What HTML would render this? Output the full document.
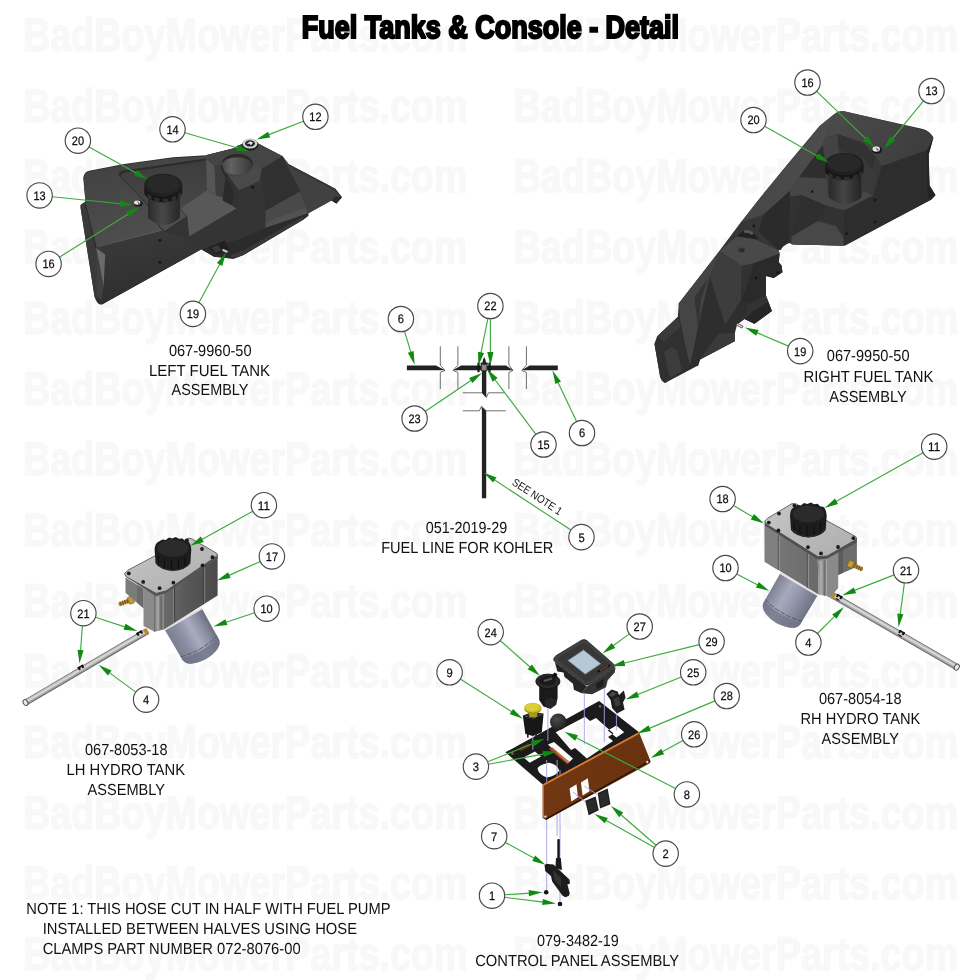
<!DOCTYPE html>
<html><head><meta charset="utf-8"><title>Fuel Tanks &amp; Console - Detail</title>
<style>
html,body{margin:0;padding:0;background:#fff;}
body{width:980px;height:980px;overflow:hidden;font-family:"Liberation Sans",sans-serif;}
svg{display:block;will-change:transform;}
text{font-family:"Liberation Sans",sans-serif;text-rendering:geometricPrecision;}
.wm{font-weight:bold;font-size:47px;fill:#f8f8f8;stroke:#f8f8f8;stroke-width:1.6px;stroke-linejoin:miter;stroke-miterlimit:1.8;}
.ttl{font-weight:bold;font-size:32px;fill:#000;stroke:#000;stroke-width:2.2px;stroke-linejoin:miter;stroke-miterlimit:1.8;}
.lbl{font-size:16px;fill:#111;}
.num{font-size:12.3px;fill:#111;text-anchor:middle;stroke:#111;stroke-width:0.25px;}
.co{fill:#fff;stroke:#484848;stroke-width:1.15;}
.ar{stroke:#3dab3d;stroke-width:1.15;fill:none;}
.ah{fill:#128a12;stroke:none;}
</style></head><body>
<svg width="980" height="980" viewBox="0 0 980 980">
<rect width="980" height="980" fill="#fff"/>

<g class="wm">
<text x="23.0" y="51.0" textLength="444.6" lengthAdjust="spacingAndGlyphs">BadBoyMowerParts.com</text>
<text x="513.6" y="51.0" textLength="444.6" lengthAdjust="spacingAndGlyphs">BadBoyMowerParts.com</text>
<text x="23.0" y="121.7" textLength="444.6" lengthAdjust="spacingAndGlyphs">BadBoyMowerParts.com</text>
<text x="513.6" y="121.7" textLength="444.6" lengthAdjust="spacingAndGlyphs">BadBoyMowerParts.com</text>
<text x="23.0" y="192.4" textLength="444.6" lengthAdjust="spacingAndGlyphs">BadBoyMowerParts.com</text>
<text x="513.6" y="192.4" textLength="444.6" lengthAdjust="spacingAndGlyphs">BadBoyMowerParts.com</text>
<text x="23.0" y="263.1" textLength="444.6" lengthAdjust="spacingAndGlyphs">BadBoyMowerParts.com</text>
<text x="513.6" y="263.1" textLength="444.6" lengthAdjust="spacingAndGlyphs">BadBoyMowerParts.com</text>
<text x="23.0" y="333.8" textLength="444.6" lengthAdjust="spacingAndGlyphs">BadBoyMowerParts.com</text>
<text x="513.6" y="333.8" textLength="444.6" lengthAdjust="spacingAndGlyphs">BadBoyMowerParts.com</text>
<text x="23.0" y="404.5" textLength="444.6" lengthAdjust="spacingAndGlyphs">BadBoyMowerParts.com</text>
<text x="513.6" y="404.5" textLength="444.6" lengthAdjust="spacingAndGlyphs">BadBoyMowerParts.com</text>
<text x="23.0" y="475.2" textLength="444.6" lengthAdjust="spacingAndGlyphs">BadBoyMowerParts.com</text>
<text x="513.6" y="475.2" textLength="444.6" lengthAdjust="spacingAndGlyphs">BadBoyMowerParts.com</text>
<text x="23.0" y="545.9" textLength="444.6" lengthAdjust="spacingAndGlyphs">BadBoyMowerParts.com</text>
<text x="513.6" y="545.9" textLength="444.6" lengthAdjust="spacingAndGlyphs">BadBoyMowerParts.com</text>
<text x="23.0" y="616.6" textLength="444.6" lengthAdjust="spacingAndGlyphs">BadBoyMowerParts.com</text>
<text x="513.6" y="616.6" textLength="444.6" lengthAdjust="spacingAndGlyphs">BadBoyMowerParts.com</text>
<text x="23.0" y="687.3" textLength="444.6" lengthAdjust="spacingAndGlyphs">BadBoyMowerParts.com</text>
<text x="513.6" y="687.3" textLength="444.6" lengthAdjust="spacingAndGlyphs">BadBoyMowerParts.com</text>
<text x="23.0" y="758.0" textLength="444.6" lengthAdjust="spacingAndGlyphs">BadBoyMowerParts.com</text>
<text x="513.6" y="758.0" textLength="444.6" lengthAdjust="spacingAndGlyphs">BadBoyMowerParts.com</text>
<text x="23.0" y="828.7" textLength="444.6" lengthAdjust="spacingAndGlyphs">BadBoyMowerParts.com</text>
<text x="513.6" y="828.7" textLength="444.6" lengthAdjust="spacingAndGlyphs">BadBoyMowerParts.com</text>
<text x="23.0" y="899.4" textLength="444.6" lengthAdjust="spacingAndGlyphs">BadBoyMowerParts.com</text>
<text x="513.6" y="899.4" textLength="444.6" lengthAdjust="spacingAndGlyphs">BadBoyMowerParts.com</text>
<text x="23.0" y="970.1" textLength="444.6" lengthAdjust="spacingAndGlyphs">BadBoyMowerParts.com</text>
<text x="513.6" y="970.1" textLength="444.6" lengthAdjust="spacingAndGlyphs">BadBoyMowerParts.com</text>
</g>
<text class="ttl" x="301.8" y="37.8" textLength="377.3" lengthAdjust="spacingAndGlyphs">Fuel Tanks &amp; Console - Detail</text>
<!-- 10_fuelline.svg -->
<g id="fuelline">
<!-- break lines -->
<g fill="none" stroke="#6e6e6e" stroke-width="1">
<path d="M440.3 346.3V365.2L445 370.4L440.3 372.4V389"/>
<path d="M457.9 346.3V365.2L453 370.4L457.9 372.4V389"/>
<path d="M508.9 346.3V365.2L513 370.4L508.9 372.4V389"/>
<path d="M526.4 346.3V365.2L521.8 370.4L526.4 372.4V389"/>
<path d="M462.8 392.8H481.8L486.4 397.6L488.4 392.8H504.5"/>
<path d="M462.8 410.8H479.4L481.4 406.3L486.2 410.8H505.8"/>
</g>
<!-- hose segments -->
<g fill="#222">
<path d="M406.9 365.5H436L445 370.3H406.9Z"/>
<path d="M453 370.3L461 365.5H506L513 370.3Z"/>
<path d="M521.8 370.3L529.5 365.5H557.8V370.3Z"/>
<path d="M481.9 370H486.3V397.5L481.9 392.5Z"/>
<path d="M481.6 406.4L486.2 411V498.3H481.9V411Z"/>
</g>
<!-- tee fitting -->
<path d="M482.3 363.8L483 359.8L484.2 357L485.4 359.8L486.3 363.8Z" fill="#1c1c1c"/>
<rect x="480.6" y="362.6" width="7.2" height="2" fill="#222"/>
<rect x="477.4" y="362.6" width="2.2" height="9.6" fill="#151515"/>
<rect x="488.4" y="362.6" width="2.2" height="9.6" fill="#151515"/>
<rect x="481.3" y="364.6" width="5.6" height="6.2" fill="#8c8c8c" stroke="#222" stroke-width="0.7"/>
</g>

<!-- 20_lefttank.svg -->
<g id="lefttank">
<defs>
<linearGradient id="ltTop" x1="0" y1="0" x2="0.6" y2="1"><stop offset="0" stop-color="#404040"/><stop offset="0.6" stop-color="#4a4a4a"/><stop offset="1" stop-color="#505050"/></linearGradient>
<linearGradient id="ltFront" x1="0" y1="0" x2="0.3" y2="1"><stop offset="0" stop-color="#3b3b3b"/><stop offset="1" stop-color="#2e2e2e"/></linearGradient>
<linearGradient id="ltBack" x1="0" y1="0" x2="0" y2="1"><stop offset="0" stop-color="#3c3c3c"/><stop offset="1" stop-color="#4b4b4b"/></linearGradient>
<linearGradient id="ltCup" x1="0" y1="0" x2="1" y2="0"><stop offset="0" stop-color="#444"/><stop offset="0.3" stop-color="#626262"/><stop offset="0.7" stop-color="#4a4a4a"/><stop offset="1" stop-color="#363636"/></linearGradient>
<linearGradient id="ltNeck" x1="0" y1="0" x2="1" y2="0"><stop offset="0" stop-color="#2b2b2b"/><stop offset="0.45" stop-color="#484848"/><stop offset="1" stop-color="#262626"/></linearGradient>
</defs>
<!-- base silhouette -->
<path d="M83.2 178Q84 171.5 90.5 170.6L124 163.9L173 157.3L206 155.3L233 148.6L241 144.6L258 143.5L282.5 156.3L288.7 164.3L335.2 188.8L341.9 197.3L336.4 203.5L331.5 200.4L308.3 213.3V215.7L303.4 219.4L243.4 255.1L233.6 258.8L214.3 256.8L201.4 249.3L101.9 304.6Q97 305 94.6 297L80.6 208L80.6 204.9L85.5 201.6Z" fill="#2f2f2f"/>
<!-- sloped top/left face -->
<path d="M83.8 178Q84.5 172.5 90.5 171.4L124 164.8L173 158.2L206 156.2V170L161.5 230L107.7 243.5L96.2 248L86 212Z" fill="url(#ltTop)"/>
<!-- ridge highlight -->
<path d="M96.2 248L107.7 243.2L161.5 229.6L162 231.2L108 245.2L97 249.6Z" fill="#575757"/>
<!-- left edge band -->
<path d="M85.5 201.6L86 212L96.2 248L101 300L94.6 297L80.6 208L80.6 204.9Z" fill="#3a3a3a"/>
<path d="M85.6 205L96.2 248" stroke="#1c1c1c" stroke-width="0.8" fill="none"/>
<!-- front face -->
<path d="M96.2 248L107.7 244.5L161.5 231L164.5 231.2L187.5 238L201.4 249.3L101.9 304.6L97.5 300Z" fill="url(#ltFront)"/>
<!-- left wedge highlight -->
<path d="M96.2 248L105.2 254.5L103.6 287Z" fill="#6a6a6a"/>
<path d="M96.2 248L103.6 287L101.5 300L97 296Z" fill="#404040"/>
<!-- recess back wall -->
<path d="M118.3 174.5Q119 171.2 124 170.4L206 158.5L206.7 190.2L180.4 208.6L179.8 216L161.5 230L146.8 203.9Z" fill="url(#ltBack)"/>
<path d="M118.3 174.5Q119 171.2 124 170.4L206 158.5V160.6L125 172.4Q121.5 173 120.6 176.8Z" fill="#2c2c2c"/>
<path d="M118.3 174.5L146.8 203.9L161.5 230" fill="none" stroke="#2b2b2b" stroke-width="0.9"/>
<!-- floor -->
<path d="M180.4 208.6L206.7 190.2L215.9 195.1L223.3 197.5L236.7 208.6L189 236.7L187.1 215.9Z" fill="#585858"/>
<!-- neck block top & wall -->
<path d="M160.8 225.7L180.4 209.8L187.1 215.9L164.5 231.2Z" fill="#4f4f4f"/>
<path d="M187.1 215.9L189 236.7L187.5 238L164.5 231.2Z" fill="#333"/>
<!-- front face under floor -->
<path d="M189 236.7L236.7 208.6L238 240L214.3 256.8L201.4 249.3L187.5 238Z" fill="#343434"/>
<!-- filler neck -->
<path d="M148 192H179.8V218Q172 225 163.9 225Q154.5 224 148 218Z" fill="url(#ltNeck)"/>
<!-- cap -->
<path d="M144.3 185.3V192.4Q145.4 200.4 163.3 202.4Q181 200.4 182.2 192.4V185.3Z" fill="#161616"/>
<ellipse cx="163.3" cy="185.1" rx="19" ry="11.4" fill="#212121"/>
<ellipse cx="163.3" cy="184.2" rx="16.4" ry="9.4" fill="#282828"/>
<g fill="#2e2e2e"><path d="M147.5 193.5l4 2.2v4.6l-4-2.6z"/><path d="M154.5 197.2l5 1.4v4l-5-1.4z"/><path d="M163 198.8h5.4v3.6H163z"/><path d="M171.5 197.6l4.6-2v4.2l-4.6 1.6z"/><path d="M178 194.2l3-2.4v4.4l-3 2.2z"/></g>
<!-- small bolt 13/16 -->
<ellipse cx="138.2" cy="203.6" rx="4.4" ry="3" fill="#161616"/>
<ellipse cx="137.2" cy="202.6" rx="3.2" ry="2.2" fill="#e6e6e6"/>
<path d="M137 201L140 203.4L138.6 204.6Z" fill="#555"/>
<!-- holes -->
<circle cx="159.9" cy="240.3" r="1.4" fill="#141414"/><circle cx="159.9" cy="262.3" r="1.4" fill="#141414"/>
<!-- cup-holder block -->
<path d="M206 155.3L233 148.6L241 144.6L258 143.5L282.5 156.3L261.7 169.2L265.4 210.8V228L238 240L236.7 208.6L223.3 197.5L215.9 195.1L206.7 190.2Z" fill="#353535"/>
<!-- block left wall -->
<path d="M206.1 158.5L214.7 166.3L215.9 195.1L206.7 190.2Z" fill="#565656"/>
<!-- block front-left wall -->
<path d="M214.7 166.3L220.8 165.1L225.7 176.7L223.3 197.5L215.9 195.1Z" fill="#3d3d3d"/>
<!-- block top face -->
<path d="M206 155.3L233 148.6L241 144.6L258 143.5L282.5 156.3L261.7 169.2L238 189L233 181.6L225.7 176.7L220.8 165.1L214.7 166.3L206.1 158.5Z" fill="#454545"/>
<!-- cup interior -->
<ellipse cx="237.1" cy="164.2" rx="15.8" ry="10.8" fill="url(#ltCup)"/>
<path d="M221.3 164.2Q223 154.6 237.1 153.4Q251.4 154.6 252.9 164.2Q249 157.6 237.1 157.2Q225 157.6 221.3 164.2Z" fill="#2a2a2a"/>
<!-- block front face right of channel -->
<path d="M238.9 190.2L259.3 181L261.7 169.2L265.4 210.8V228L238 240Z" fill="#343434"/>
<!-- channel -->
<path d="M220.5 164.7Q221.5 172 225.6 176.9L222.6 200.4L235.8 207.6L238.9 190.2L228.7 175.9Q224 172.6 222.6 166Z" fill="#2a2a2a"/>
<path d="M225.6 176.9L228.7 175.9L238.9 190.2L235.8 207.6L232 205.6L233.6 190Z" fill="#323232"/>
<!-- ring front-right top face -->
<path d="M228.7 175.9Q236 177.6 244 175.4Q250.6 172.8 252.8 166.6L255.2 163.7L261.7 169.2L259.3 181L238.9 190.2Z" fill="#4a4a4a"/>
<circle cx="252.6" cy="187.2" r="1.5" fill="#141414"/>
<!-- tower right face -->
<path d="M261.7 169.2L282.5 156.3L300.3 191.2L265.4 210.8Z" fill="#303030"/>
<!-- slope strip below tower -->
<path d="M265.4 210.8L300.3 191.2L308.3 213.3L265.4 228Z" fill="#494949"/>
<path d="M266.4 222L305.5 207.5L308.3 213.3L265.4 228Z" fill="#525252"/>
<!-- wing -->
<path d="M282.5 156.3L288.7 164.3L335.2 188.8L341.9 197.3L336.4 203.5L331.5 200.4L308.3 213.3L300.3 191.2Z" fill="#414141"/>
<path d="M331.5 200.4L335 196.5L341.9 197.3L336.4 203.5Z" fill="#2a2a2a"/>
<path d="M288.7 164.3L335.2 188.8L341.9 197.3L340.5 197.5L334.6 190.4L289.5 166.6Z" fill="#363636"/>
<!-- lower right body -->
<path d="M265.4 228L308.3 213.3V215.7L303.4 219.4L243.4 255.1L233.6 258.8L214.3 256.8L201.4 249.3L238 240Z" fill="#2b2b2b"/>
<path d="M243.4 250.4L303 216.4L303.4 219.4L243.4 255.1L232.4 258.8L231 255Z" fill="#393939"/>
<!-- drain fitting -->
<path d="M208 247.6L224.5 240.6L229 249.6L217 254.2Z" fill="#1f1f1f"/>
<path d="M211 247.8L218 245L221.8 250.6L216 252.8Z" fill="#383838"/>
<rect x="222.4" y="249.6" width="5.4" height="2.2" transform="rotate(25 224.9 250.6)" fill="#c2c2c2"/>
<!-- bolt 12 -->
<ellipse cx="250.2" cy="144.7" rx="8.2" ry="6" fill="#1e1e1e"/>
<ellipse cx="250" cy="143.6" rx="7.4" ry="5" fill="#d2d2d2"/>
<ellipse cx="250" cy="143.4" rx="5" ry="3.2" fill="#2a2a2a"/>
<path d="M247 143.6L250 141.6L253 142.4L251 145Z" fill="#f0f0f0"/>
<circle cx="249.2" cy="144.4" r="0.8" fill="#111"/>
</g>

<!-- 30_righttank.svg -->
<g id="righttank">
<defs>
<linearGradient id="rtSide" x1="0" y1="0" x2="1" y2="0.3"><stop offset="0" stop-color="#434343"/><stop offset="1" stop-color="#4e4e4e"/></linearGradient>
<linearGradient id="rtTop" x1="0" y1="0" x2="1" y2="0.4"><stop offset="0" stop-color="#4c4c4c"/><stop offset="1" stop-color="#3e3e3e"/></linearGradient>
<linearGradient id="rtNeck" x1="0" y1="0" x2="1" y2="0"><stop offset="0" stop-color="#2a2a2a"/><stop offset="0.45" stop-color="#454545"/><stop offset="1" stop-color="#242424"/></linearGradient>
</defs>
<!-- silhouette -->
<path d="M833.7 114.5Q838 110.8 843.4 111.2L922.9 129Q930 131 933.5 137.8L928.7 154.3L929.6 185.3L935.5 195L930.6 199.8L845.3 245.4L793 244.4L789 243L778.6 249V262L781.5 265.6L782.5 272.3L773.8 278L766 276V295.6L771.8 311L754.4 323.7L744.7 318.9L737 324.7L735 332.4V341L700 359.6L698 365.4L665 382.9Q661 381 660 376L654.5 344L657.4 336.3L677.8 317L678.8 303.4L718 253L757.6 201L787 165L819.6 126Z" fill="#2e2e2e"/>
<!-- long left sloped face -->
<path d="M834.4 114.2L825.2 137.9L822.9 144.8L799.2 176.9L790 190.7L760 220L741 222L757.6 201L787 165L819.6 126Z" fill="url(#rtSide)"/>
<!-- top surface right -->
<path d="M834.4 114.2Q838 110.8 843.6 111.1L924.7 130.3Q930.5 132 933.1 137.9L927 150.2L881.8 166.2L875.7 157L863.5 143.3L837.5 134.1L825.2 137.9Z" fill="url(#rtTop)"/>
<!-- right dark face -->
<path d="M881.8 166.2L927 150.2L928.5 155.5L929.3 186.1L935.4 195.3L930.8 199.9L843.6 245.8L844.3 210.6L873.4 195.3Z" fill="#2d2d2d"/>
<path d="M927 150.2L933.1 137.9L928.5 155.5L929.3 186.1L935.4 195.3L930.8 199.9L927.6 196Z" fill="#242424"/>
<path d="M875.7 157L881.8 166.2L873.4 195.3L872 170Z" fill="#383838"/>
<!-- recess around cap -->
<path d="M825.2 137.9L837.5 134.1L863.5 143.3L875.7 157L873.4 195.3L863.5 190.7L860.4 196.8L828.3 196.8L826.7 178.5L822.9 144.8Z" fill="#393939"/>
<path d="M825.2 137.9L837.5 134.1L839 155.5L826.7 178.5L822.9 144.8Z" fill="#434343"/>
<path d="M837.5 134.1L863.5 143.3L875.7 157L872 170L864 158L839 150Z" fill="#323232"/>
<!-- ledge top -->
<path d="M799.2 176.9L826.7 178.5L828.3 196.8L860.4 196.8L863.5 190.7L873.4 195.3L844.3 210.6L826.7 206L801.5 195.3L790 196.8V190.7Z" fill="#464646"/>
<!-- step front -->
<path d="M790 196.8L801.5 195.3L826.7 206L844.3 210.6L843.6 245.8L791.5 244.3L789 238.6Z" fill="#323232"/>
<path d="M801.5 195.3L826.7 206L817.6 221.3L791.5 236.6Z" fill="#2f2f2f"/>
<path d="M791.5 236.6L817.6 221.3L835.9 225.9L843.6 237.7V245.8L791.5 244.3Z" fill="#484848"/>
<path d="M758.6 231.6L763.5 214.5L790 190.7V196.8L789 238.6L780.6 250L778.2 250Z" fill="#2b2b2b"/>
<!-- neck -->
<path d="M829 170H861.2V197.6Q853.4 204.2 844.8 204.2Q835.2 203.4 829 197.6Z" fill="url(#rtNeck)"/>
<!-- cap -->
<path d="M825.2 164V171.6Q826.6 178.2 844.3 180Q862.2 178.2 863.5 171.6V164Z" fill="#161616"/>
<ellipse cx="844.3" cy="163.9" rx="19.1" ry="11" fill="#202020"/>
<ellipse cx="844.3" cy="163.1" rx="16.4" ry="9" fill="#282828"/>
<g fill="#2e2e2e"><path d="M828.7 172.4l4 2.2v4.2l-4-2.4z"/><path d="M835.7 175.8l5 1.3v3.8l-5-1.3z"/><path d="M844.2 177h5.4v3.4h-5.4z"/><path d="M852.7 176l4.6-1.9v4l-4.6 1.5z"/><path d="M859.2 172.8l3-2.3v4.2l-3 2.1z"/></g>
<!-- bolt -->
<ellipse cx="876.8" cy="150" rx="5.2" ry="3.8" fill="#161616"/>
<ellipse cx="876.2" cy="149" rx="3.8" ry="2.7" fill="#e2e2e2"/>
<path d="M875.6 147.6L879 149.6L877.6 151Z" fill="#555"/>
<!-- holes -->
<circle cx="875" cy="199.9" r="1.3" fill="#131313"/><circle cx="875" cy="222.1" r="1.3" fill="#131313"/><circle cx="846.6" cy="233.6" r="1.3" fill="#131313"/><circle cx="812.2" cy="191.5" r="1.2" fill="#131313"/>
<!-- middle section -->
<path d="M741 222L763.5 214.5L758.6 231.6L778.2 250L778.6 262L766 276L744 262L718 253Z" fill="#363636"/>
<path d="M736.5 236.5L743.9 230.4L753.7 233L758.6 239L753.7 239Z" fill="#222"/>
<path d="M743.9 230.4Q749 229 753.7 233L752 235Q748 232 744.5 233Z" fill="#5a5a5a"/>
<path d="M719.4 251.2L736.5 236.5L753.7 239L778.2 250L780 253.5L753.7 263.5L741.4 265.9Z" fill="#494949"/>
<ellipse cx="741.6" cy="250" rx="3.4" ry="2.4" fill="#333"/><ellipse cx="742" cy="250.6" rx="2.2" ry="1.5" fill="#272727"/>
<rect x="752.6" y="224.6" width="2.4" height="2.4" transform="rotate(30 753.8 225.8)" fill="#161616"/>
<!-- lower long faces -->
<path d="M719.4 251.2L741.4 265.9L741 300L721 329L700 359.6L690 366L680 320L678.8 303.4Z" fill="#3a3a3a"/>
<path d="M741.4 265.9L753.7 263.5L746.4 288L741 300Z" fill="#323232"/>
<path d="M753.7 263.5L780 253.5L778.6 262L781.5 265.6L782.5 272.3L773.8 278L766 276V295.6L748 304L741 300L746.4 288Z" fill="#2a2a2a"/>
<path d="M678.8 303.4L719.4 251.2L709.8 276.2L700 318L690 366L680 320Z" fill="#454545"/>
<path d="M709.8 276.2L725.3 324.7L700.1 359.6L698 366L690 366L700 318Z" fill="#2e2e2e"/>
<path d="M719.4 251.2L741.4 265.9L741 300L725.3 324.7L709.8 276.2Z" fill="#3d3d3d"/>
<path d="M694.3 297.6L707.9 278.2L701 300L698.2 328.6Z" fill="#343434"/>
<path d="M700.1 359.6L717.2 343.7L734.4 332.7L735 341L700 359.6L698 365.4Z" fill="#2a2a2a"/>
<circle cx="756" cy="278" r="1.2" fill="#111"/><circle cx="777.5" cy="272.5" r="1.2" fill="#111"/>
<!-- lower right block -->
<path d="M748 304L766 295.6L771.8 311L754.4 323.7L744.7 318.9Z" fill="#333"/>
<path d="M744.7 318.9L754.4 323.7L771.8 311L768 302L752 312Z" fill="#262626"/>
<!-- bottom foot -->
<path d="M657.4 336.3L677.8 317L690 366L665 382.9Q661 381 660 376L654.5 344Z" fill="#303030"/>
<path d="M657.4 336.3L677.8 317L680.5 327L664 342Z" fill="#3a3a3a"/>
<path d="M664 352L671 347L677 350L682 371L670 378Z" fill="#3c3c3c"/>
<path d="M700 359.6L718 334L735 332.4V341Z" fill="#3a3a3a"/>
<!-- drain pin -->
<rect x="736.3" y="324.4" width="6.6" height="2.4" transform="rotate(27 739.6 325.6)" fill="#c4c4c4" stroke="#222" stroke-width="0.5"/>
</g>

<!-- 40_lhhydro.svg -->
<g id="lhhydro">
<defs>
<linearGradient id="tubeG" x1="0" y1="0" x2="0" y2="1"><stop offset="0" stop-color="#5a5a5a"/><stop offset="0.18" stop-color="#b9b9b9"/><stop offset="0.42" stop-color="#dedede"/><stop offset="0.75" stop-color="#a2a2a2"/><stop offset="1" stop-color="#4e4e4e"/></linearGradient>
<linearGradient id="filtL" x1="0" y1="0" x2="1" y2="0"><stop offset="0" stop-color="#7b7d90"/><stop offset="0.3" stop-color="#8d90a4"/><stop offset="0.55" stop-color="#a9acbf"/><stop offset="0.8" stop-color="#8b8ea2"/><stop offset="1" stop-color="#6b6d80"/></linearGradient>
<linearGradient id="bodyFL" x1="0" y1="0" x2="1" y2="0"><stop offset="0" stop-color="#8e8e8e"/><stop offset="1" stop-color="#7a7a7a"/></linearGradient>
<linearGradient id="bodyFR" x1="0" y1="0" x2="1" y2="0"><stop offset="0" stop-color="#6a6a6a"/><stop offset="0.5" stop-color="#565656"/><stop offset="1" stop-color="#4a4a4a"/></linearGradient>
<linearGradient id="lidG" x1="0" y1="0" x2="1" y2="1"><stop offset="0" stop-color="#c6c6c6"/><stop offset="1" stop-color="#adadad"/></linearGradient>
</defs>
<!-- filter -->
<g transform="translate(183.3 619.2) rotate(-29.8)">
<path d="M-21.4 0H21.4L21 35Q20 44.5 0 46Q-20 44.5 -21 35Z" fill="url(#filtL)"/>
<path d="M-21 33Q0 39 21 33V35Q20 44.5 0 46Q-20 44.5 -21 35Z" fill="#6f7185" opacity="0.75"/>
<path d="M-21 31.3Q0 37 21 31.3" fill="none" stroke="#50525f" stroke-width="0.8" stroke-dasharray="5 1.5"/>
<rect x="-21.4" y="-1.6" width="42.8" height="2.4" fill="#e3e3e6"/>
</g>
<!-- tube -->
<g transform="translate(25.5 702.6) rotate(-30.4)">
<rect x="0" y="-3.1" width="140" height="6.2" fill="url(#tubeG)"/>
<ellipse cx="0" cy="0" rx="2.2" ry="3.1" fill="#e9e9e9" stroke="#555" stroke-width="1"/>
<rect x="62.5" y="-3.9" width="2" height="3.4" fill="#111"/><rect x="66.5" y="-3.9" width="2" height="3.4" fill="#111"/><rect x="62.5" y="-3.9" width="6" height="1.5" fill="#111"/>
<rect x="130.5" y="-3.9" width="2" height="3.4" fill="#111"/><rect x="134.5" y="-3.9" width="2" height="3.4" fill="#111"/><rect x="130.5" y="-3.9" width="6" height="1.5" fill="#111"/>
<rect x="138.2" y="-3.4" width="3.8" height="6.8" rx="1.2" fill="#b58a2e"/>
</g>
<!-- brass barb fitting -->
<g transform="translate(133.3 599.2) rotate(-19.9)">
<rect x="-15.6" y="-1.8" width="12" height="3.6" rx="1" fill="#b38b30"/>
<g fill="#7a5c18"><rect x="-14.2" y="-2.3" width="1.3" height="4.6"/><rect x="-11.8" y="-2.3" width="1.3" height="4.6"/><rect x="-9.4" y="-2.3" width="1.3" height="4.6"/><rect x="-7" y="-2.3" width="1.3" height="4.6"/></g>
<rect x="-5.2" y="-3.6" width="5.6" height="7.2" rx="1" fill="#c49a3a" stroke="#6e5316" stroke-width="0.6"/>
</g>
<!-- body: left/front faces -->
<path d="M125.5 577.6L143.5 588.6V608.2L125.5 592.7Z" fill="#7b7b7b"/>
<path d="M137 585L143.5 588.6V608.2L137 602.6Z" fill="#6c6c6c"/>
<path d="M143.5 588.6L154.5 593.9V631.8L143.5 626.1Z" fill="#8b8b8b"/>
<path d="M154.5 593.9L163.9 593.1V629.4L154.5 631.8Z" fill="#868686"/>
<path d="M156.4 596.6L159 596.3V629.8L156.4 630.5Z" fill="#a2a2a2"/>
<path d="M160.4 596L162.2 595.8V629L160.4 629.6Z" fill="#6a6a6a"/>
<path d="M154.5 593.9V631.8" stroke="#5e5e5e" stroke-width="0.8"/>
<!-- body: right face -->
<path d="M163.9 593.1L217.6 557V595.4L163.9 629.4Z" fill="url(#bodyFR)"/>
<g stroke="#3e3e3e" stroke-width="0.9" fill="none"><path d="M174.6 586V622"/><path d="M203.5 567.5V604"/></g>
<g stroke="#858585" stroke-width="0.9" fill="none"><path d="M173.4 586.6V622.6"/><path d="M204.7 566.8V603.3"/></g>
<!-- lid edge -->
<path d="M124.5 575L127.5 577.8L155.5 595.9L165.3 593.4L217.8 558.4L217.6 554.3L165.3 589L155.5 591.6Z" fill="#545454"/>
<!-- lid top -->
<path d="M124.5 573.4L128.6 569.8L188.2 538.2L191.4 538.6L216.7 553.2L217.6 555.4L166.2 590.8L156.2 593.4L126 576.6Z" fill="url(#lidG)" stroke="#4a4a4a" stroke-width="0.8"/>
<g fill="#1a1a1a"><circle cx="128.8" cy="573.4" r="1.9"/><circle cx="143.2" cy="581.9" r="1.9"/><circle cx="159.6" cy="588.2" r="1.9"/><circle cx="173.4" cy="582.7" r="1.9"/><circle cx="202.5" cy="565.4" r="1.9"/><circle cx="212.5" cy="557.2" r="1.9"/><circle cx="202" cy="549" r="1.9"/><circle cx="186.9" cy="540.3" r="1.9"/></g>
<!-- cap -->
<path d="M154.6 549.5Q155 543 159 541.5L162.4 539.4L165.7 540L169 537.6L172.2 538.6L175.8 537L178.8 538.7L182.5 538.4L184.7 540.7L188.3 541.4Q191 544 191.3 549.5L190.3 563.5Q186 570 172.7 570.8Q160 570 155.6 563.5Z" fill="#1d1d1d"/>
<ellipse cx="172.9" cy="548.2" rx="15.6" ry="8.6" fill="#2b2b2b"/>
<g stroke="#0c0c0c" stroke-width="1" fill="none"><path d="M158.5 556V565"/><path d="M164.5 559V568.6"/><path d="M171.5 560V570"/><path d="M178.5 559.5V569.4"/><path d="M185 557V566.6"/></g>
<path d="M155.4 561Q160 569.5 172.7 570.8Q186 570 190.4 561.5" fill="none" stroke="#333" stroke-width="0.8"/>
</g>

<!-- 50_rhhydro.svg -->
<g id="rhhydro">
<defs>
<linearGradient id="filtR" x1="0" y1="0" x2="1" y2="0"><stop offset="0" stop-color="#7d7f92"/><stop offset="0.35" stop-color="#a6a9bd"/><stop offset="0.6" stop-color="#9598ac"/><stop offset="1" stop-color="#6f7184"/></linearGradient>
<linearGradient id="rhLeft" x1="0" y1="0" x2="1" y2="0"><stop offset="0" stop-color="#7a7a7a"/><stop offset="1" stop-color="#6a6a6a"/></linearGradient>
</defs>
<!-- filter -->
<g transform="translate(799 584.3) rotate(30.4)">
<path d="M-21.7 0H21.7L21.3 34Q20 43.5 0 45Q-20 43.5 -21.3 34Z" fill="url(#filtR)"/>
<path d="M-21.3 32Q0 38 21.3 32V34Q20 43.5 0 45Q-20 43.5 -21.3 34Z" fill="#6f7185" opacity="0.7"/>
<path d="M-21.3 30.3Q0 36 21.3 30.3" fill="none" stroke="#50525f" stroke-width="0.8" stroke-dasharray="5 1.5"/>
<rect x="-21.7" y="-1.6" width="43.4" height="2.4" fill="#e3e3e6"/>
</g>
<!-- tube -->
<g transform="translate(956.8 667.1) rotate(30)">
<rect x="-142" y="-3.2" width="142" height="6.4" fill="url(#tubeG)"/>
<ellipse cx="0" cy="0" rx="2.3" ry="3.2" fill="#ececec" stroke="#555" stroke-width="1"/>
<rect x="-140" y="-4" width="2" height="3.4" fill="#111"/><rect x="-136" y="-4" width="2" height="3.4" fill="#111"/><rect x="-140" y="-4" width="6" height="1.5" fill="#111"/><rect x="-139" y="0.6" width="4" height="1" fill="#111"/>
<rect x="-68" y="-4" width="2" height="3.4" fill="#111"/><rect x="-64" y="-4" width="2" height="3.4" fill="#111"/><rect x="-68" y="-4" width="6" height="1.5" fill="#111"/><rect x="-67" y="0.6" width="4" height="1" fill="#111"/>
<rect x="-144.5" y="-3.5" width="3.6" height="7" rx="1.2" fill="#b58a2e"/>
</g>
<!-- recessed right face -->
<path d="M838.2 552L856.9 541.6V566.7L838.2 574.9Z" fill="#6d6d6d"/>
<path d="M838.2 552L843 549.4V572.8L838.2 574.9Z" fill="#5c5c5c"/>
<!-- brass barb fitting -->
<g transform="translate(848.6 563.2) rotate(24)">
<rect x="3.6" y="-1.8" width="12" height="3.6" rx="1" fill="#b38b30"/>
<g fill="#7a5c18"><rect x="6" y="-2.3" width="1.3" height="4.6"/><rect x="8.4" y="-2.3" width="1.3" height="4.6"/><rect x="10.8" y="-2.3" width="1.3" height="4.6"/><rect x="13.2" y="-2.3" width="1.3" height="4.6"/></g>
<rect x="-0.6" y="-3.6" width="5.6" height="7.2" rx="1" fill="#c49a3a" stroke="#6e5316" stroke-width="0.6"/>
</g>
<!-- left big face -->
<path d="M764.7 524.4L817.8 558.6L818.6 594.5L764.7 561.8Z" fill="url(#rhLeft)"/>
<path d="M764.7 524.4L778 533V570L764.7 561.8Z" fill="#808080"/>
<g stroke="#4c4c4c" stroke-width="0.9" fill="none"><path d="M778.3 535.5V569.5"/><path d="M807.3 553.4V588"/></g>
<g stroke="#979797" stroke-width="0.9" fill="none"><path d="M779.4 536.2V570.2"/><path d="M808.4 554.1V588.7"/></g>
<!-- chamfer -->
<path d="M817.8 558.6L826.7 557.8V596.1L818.6 594.5Z" fill="#8e8e8e"/>
<path d="M819.6 561L822.4 560.7V595.2L819.6 594.7Z" fill="#aaa"/>
<path d="M823.8 560.6L825.4 560.4V595.8L823.8 595.5Z" fill="#6e6e6e"/>
<!-- front right face -->
<path d="M826.7 557.8L838.2 552V588L830 597.8L826.7 596.1Z" fill="#8a8a8a"/>
<!-- lid edge -->
<path d="M764.7 521L764.7 525.4L817.8 559.6L826.7 558.8L856.9 542.6V538.2L826.7 554.4L817.8 555.2Z" fill="#505050"/>
<!-- lid top -->
<path d="M764.7 521.2L767.6 518.2L792 503.6L796 503.8L855.8 536.6L856.9 539L827.2 556L817.8 556.6L766.2 524Z" fill="url(#lidG)" stroke="#4a4a4a" stroke-width="0.8"/>
<g fill="#1a1a1a"><circle cx="768.8" cy="522.6" r="1.9"/><circle cx="779" cy="513.6" r="1.9"/><circle cx="794.4" cy="505.6" r="1.9"/><circle cx="778.4" cy="530.4" r="1.9"/><circle cx="808" cy="547.2" r="1.9"/><circle cx="821" cy="553.4" r="1.9"/><circle cx="838" cy="547" r="1.9"/><circle cx="853.4" cy="538.2" r="1.9"/></g>
<!-- cap -->
<path d="M790 516Q790.3 509 794 507.2L797.4 505L800.8 505.6L804 503L807.4 504L811 502.4L814 504.2L817.6 503.8L820 506.2L823.6 507Q826.4 509.6 826.7 515.4L825.7 530Q821.5 536.6 808.3 537.4Q795.6 536.6 791 530Z" fill="#1d1d1d"/>
<ellipse cx="808.3" cy="514" rx="15.6" ry="8.6" fill="#2b2b2b"/>
<g stroke="#0c0c0c" stroke-width="1" fill="none"><path d="M794 522V531"/><path d="M800 525V534.6"/><path d="M807 526V536"/><path d="M814 525.5V535.4"/><path d="M820.5 523V532.6"/></g>
<path d="M790.9 527Q795.5 535.6 808.3 536.9Q821.5 536 825.9 527.6" fill="none" stroke="#333" stroke-width="0.8"/>
</g>

<!-- 60_panel.svg -->
<g id="panel">
<defs>
<linearGradient id="orG" x1="0" y1="0" x2="1" y2="0.2"><stop offset="0" stop-color="#743813"/><stop offset="1" stop-color="#683210"/></linearGradient>
<radialGradient id="ballG" cx="0.4" cy="0.35" r="0.7"><stop offset="0" stop-color="#4a4a4a"/><stop offset="1" stop-color="#1e1e1e"/></radialGradient>
</defs>
<!-- black top plate with cutouts (evenodd) -->
<path fill-rule="evenodd" fill="#1b1b1b" d="M505.4 752.3L599.1 701.1L639 732.3L542.7 784.4Z
M555.7 732.3L585.2 716.7L590 721L596 718L613.5 733.5L608 737L613 741L586.9 758.4L575 748L571 750Z
M607.8 730.6L616.4 725.4L624.2 732.3L616.4 737.5Z
M523.6 757.5L534.9 751.4L541 756.6L529.7 762.7Z
M537.5 768.8Q538 765 548.8 762.7Q557 764 559.2 770.5Q556 776 547 777.4Q539 775 537.5 768.8Z
M547.9 744.5L554 741.9L573 758.4L567.9 763.6Z"/>
<!-- orange wire bits / sticker on plate -->
<path d="M518 748.6L528 743L531 746L521 751.6Z" fill="#5a2a1a"/>
<path d="M549 749L552 747L570 762L567 764Z" fill="#b8541c" opacity="0.8"/>
<circle cx="512.5" cy="753.5" r="1.3" fill="#9a5a3a"/><circle cx="600" cy="706.4" r="1.3" fill="#9a5a3a"/>
<g stroke="#a59fe6" stroke-width="0.9" fill="none"><path d="M546.7 760V890"/><path d="M557.1 760V836"/><path d="M560 770V902"/></g>
<!-- orange front panel -->
<path fill-rule="evenodd" fill="url(#orG)" d="M542.7 784.4L639 732.3L650.3 760.6Q650.8 762.6 649.4 763.4L546 820L542.7 818Z
M569.6 788.6L576.5 784.3L577.9 797.3L571.3 801.6Z
M580.9 782.5L587.8 778.2L589.5 791.2L582.6 795.6Z"/>
<path d="M542.7 784.4L639 732.3L639.6 733.8L543.2 786Z" fill="#e07a2c"/>
<path d="M542.7 784.4V818L544 818.8V785.4Z" fill="#c96a26"/>
<path d="M546 820L650.5 761.5L649.8 760.3L545.6 818.6Z" fill="#2a1408"/>
<circle cx="545.4" cy="816.6" r="1.2" fill="#e8d8cc"/><circle cx="647.3" cy="762" r="1.2" fill="#e8d8cc"/>
<!-- assembly guide lines -->
<g stroke="#a59fe6" stroke-width="0.9" fill="none">
<path d="M547.9 706.3V741"/><path d="M584.3 694.2V744.5"/><path d="M604.3 687.2V741.9"/><path d="M616.4 713.3V730.6"/><path d="M532.8 734.1V749.7"/>

<path d="M573 792L585.2 801.5"/><path d="M584.3 786L597.3 794.7"/>
</g>
<!-- rocker switches -->
<path d="M585.2 800.8L595.6 796.4L598.7 810.3L588.7 815.2Z" fill="#1c1c1c"/>
<path d="M597.7 793L607.7 788.6L610.4 804.2L600 808.6Z" fill="#1c1c1c"/>
<path d="M586.6 801.6L594.8 798.2L597.2 809.6L589.6 813.2Z" fill="#2b2b2b"/>
<path d="M599 793.8L607 790.4L609 803.4L601 806.8Z" fill="#2b2b2b"/>
<!-- display module -->
<path d="M554.8 662.1L586.9 686.4L581.7 693.3L573.9 689.8L573 683.8L564.4 676.8L563.6 672.6L557.4 671.6Z" fill="#242424"/>
<path d="M586.9 686.4L615.6 667.3L614.7 672.5L607.7 680.3L606 687.2L592.1 694.2L581.7 693.3Z" fill="#343434"/>
<path d="M596 684L604 678.6L603.4 686L597 689.4Z" fill="#1e1e1e"/>
<path d="M556.2 655.6L581.6 640.2Q584.3 638.8 586.8 640.6L613.6 664Q616 666.4 613.4 668.6L589.4 684.4Q586.9 686 584.3 684.2L554.8 661.6Q552 659 556.2 655.6Z" fill="#414141" stroke="#222" stroke-width="0.8"/>
<path d="M558.6 657.6L582.6 643Q584.3 642.2 585.8 643.2L610.4 664.6Q611.6 666 610.2 667L588.2 681.4Q586.9 682.2 585.4 681.2L558.4 660.4Q557.2 659 558.6 657.6Z" fill="#373737"/>
<path d="M567.9 660.4L583.5 649.9L600.8 663.8L585.2 674.2Z" fill="#b4c8d8" stroke="#6f7f8b" stroke-width="0.7"/>
<path d="M596.8 671.6L609.4 664.4L610.6 665.6L598 672.8Z" fill="#111"/><path d="M600 670.6L608 666" stroke="#c8642a" stroke-width="0.7"/>
<!-- key switch -->
<path d="M539.2 682V700L543.4 706.5L550.6 708.8L556.2 704.5L557.6 698V682Z" fill="#1a1a1a"/>
<path d="M545 700L551 697.4L556 700L556.2 704.5L550.6 708.8L545.4 706.6Z" fill="#262626"/>
<ellipse cx="547.9" cy="681.4" rx="12.1" ry="7.3" fill="#2a2a2a" stroke="#111" stroke-width="0.8"/>
<ellipse cx="547.6" cy="680.8" rx="8.4" ry="4.8" fill="#1a1a1a"/>
<path d="M543.6 680L551.6 677.6L552.4 679.6L544.4 682Z" fill="#555"/>
<path d="M551 676L554.6 672.6L557.4 674L556 678.6Z" fill="#111"/>
<!-- yellow push button -->
<path d="M522.8 715.4L533.5 718.6L543.6 713.6L541.8 732.3L533 736L525.4 734.1Z" fill="#171717"/>
<path d="M522.8 715.4L533 711.8L543.6 713.6L533.5 718.6Z" fill="#2c2c2c"/>
<rect x="527" y="733" width="1.6" height="4.6" fill="#222"/><rect x="535.2" y="732.6" width="1.6" height="4.6" fill="#222"/>
<path d="M528.5 710.5Q533 714 537.6 710.5L537 716.4Q533 718.2 529.2 716.4Z" fill="#a79c1c"/>
<ellipse cx="532.8" cy="708.2" rx="8.8" ry="5.5" fill="#cfc02a"/>
<ellipse cx="532.2" cy="707.2" rx="6.8" ry="3.8" fill="#dccd3a"/>
<path d="M524 708.6Q525 713.6 532.8 713.9Q540.6 713.6 541.6 708.6Q539 712.4 532.8 712.5Q526.4 712.4 524 708.6Z" fill="#9c911a"/>
<!-- ball knob -->
<circle cx="558.3" cy="721.9" r="8.3" fill="url(#ballG)"/>
<!-- connector 25 -->
<path d="M606.4 694L611.5 689.6L617.6 691.6L619 695L623.8 690.6L625.6 697.6L623 702.4L624.6 709.6L617 713.6L612 708L610.6 700Z" fill="#1e1e1e"/>
<path d="M608.6 695L612.6 691.6L616.6 693.2L612.6 697Z" fill="#474747"/>
<path d="M613.4 699L618.6 696.8L620.6 704.6L615.6 707Z" fill="#3a3a3a"/>
<!-- lever / bracket -->
<rect x="557.3" y="839" width="2.5" height="27" rx="1" fill="#191919"/>
<path d="M556 858L560.8 858L562 870L555.4 868Z" fill="#1a1a1a"/>
<path d="M544.6 865.4Q545.6 863.4 548 864L553.5 864.6L569.4 879.4L570 883.6L567.4 884.6L569.8 893.6L568.6 896L565.2 897.2L562.4 895.4L552.2 881.4L551 876L545.2 871Z" fill="#1c1c1c"/>
<path d="M553 870L561 878V887L554 879Z" fill="#333"/>
<circle cx="546.2" cy="892.2" r="2.3" fill="#131313"/><circle cx="560" cy="904" r="2.3" fill="#131313"/>
</g>

<text class="lbl" x="168.9" y="356.1" textLength="82.7" lengthAdjust="spacingAndGlyphs">067-9960-50</text>
<text class="lbl" x="149" y="375.7" textLength="121.1" lengthAdjust="spacingAndGlyphs">LEFT FUEL TANK</text>
<text class="lbl" x="171.6" y="395.3" textLength="76.8" lengthAdjust="spacingAndGlyphs">ASSEMBLY</text>
<text class="lbl" x="826.8" y="361.2" textLength="82.7" lengthAdjust="spacingAndGlyphs">067-9950-50</text>
<text class="lbl" x="803.5" y="381.8" textLength="129.9" lengthAdjust="spacingAndGlyphs">RIGHT FUEL TANK</text>
<text class="lbl" x="829.2" y="401.6" textLength="77.5" lengthAdjust="spacingAndGlyphs">ASSEMBLY</text>
<text class="lbl" x="425.8" y="533.2" textLength="81.5" lengthAdjust="spacingAndGlyphs">051-2019-29</text>
<text class="lbl" x="381.2" y="553.4" textLength="172" lengthAdjust="spacingAndGlyphs">FUEL LINE FOR KOHLER</text>
<text class="lbl" x="85" y="754.7" textLength="82.5" lengthAdjust="spacingAndGlyphs">067-8053-18</text>
<text class="lbl" x="66.5" y="774.8" textLength="118.5" lengthAdjust="spacingAndGlyphs">LH HYDRO TANK</text>
<text class="lbl" x="87.5" y="794.8" textLength="77.5" lengthAdjust="spacingAndGlyphs">ASSEMBLY</text>
<text class="lbl" x="818.9" y="704.2" textLength="82.7" lengthAdjust="spacingAndGlyphs">067-8054-18</text>
<text class="lbl" x="800.4" y="724.4" textLength="120" lengthAdjust="spacingAndGlyphs">RH HYDRO TANK</text>
<text class="lbl" x="821.6" y="744.2" textLength="77.3" lengthAdjust="spacingAndGlyphs">ASSEMBLY</text>
<text class="lbl" x="537.1" y="945.7" textLength="81.6" lengthAdjust="spacingAndGlyphs">079-3482-19</text>
<text class="lbl" x="475.2" y="965.8" textLength="204" lengthAdjust="spacingAndGlyphs">CONTROL PANEL ASSEMBLY</text>
<text class="lbl" x="26.3" y="914.1" textLength="364.2" lengthAdjust="spacingAndGlyphs">NOTE 1: THIS HOSE CUT IN HALF WITH FUEL PUMP</text>
<text class="lbl" x="42.7" y="933.9" textLength="314.3" lengthAdjust="spacingAndGlyphs">INSTALLED BETWEEN HALVES USING HOSE</text>
<text class="lbl" x="42.7" y="953.8" textLength="257.9" lengthAdjust="spacingAndGlyphs">CLAMPS PART NUMBER 072-8076-00</text>
<text transform="translate(511.3,484.3) rotate(33)" font-size="11" fill="#111" textLength="57" lengthAdjust="spacingAndGlyphs">SEE NOTE 1</text>
<line class="ar" x1="89" y1="146.9" x2="136.6" y2="173.2"/>
<polygon class="ah" points="147.5,179.3 134.2,175.5 137.2,170"/>
<line class="ar" x1="184.7" y1="132.8" x2="238" y2="148"/>
<polygon class="ah" points="250,151.4 236.2,150.7 237.9,144.7"/>
<line class="ar" x1="303.5" y1="121.3" x2="268.2" y2="134.9"/>
<polygon class="ah" points="256.5,139.4 268,131.7 270.2,137.5"/>
<line class="ar" x1="52.2" y1="196.7" x2="120.8" y2="203.7"/>
<polygon class="ah" points="133.2,205 119.5,206.7 120.1,200.5"/>
<line class="ar" x1="59.4" y1="257.2" x2="128.7" y2="213.7"/>
<polygon class="ah" points="139.3,207.1 129.5,216.9 126.2,211.6"/>
<line class="ar" x1="198.9" y1="302.7" x2="220.1" y2="263.5"/>
<polygon class="ah" points="226,252.5 222.3,265.9 216.9,262.9"/>
<line class="ar" x1="816.6" y1="91.3" x2="866" y2="138.8"/>
<polygon class="ah" points="875,147.5 863.1,140.4 867.4,135.9"/>
<line class="ar" x1="923.5" y1="100.8" x2="891.9" y2="139.3"/>
<polygon class="ah" points="884,149 890.2,136.6 895,140.5"/>
<line class="ar" x1="764.6" y1="126.2" x2="818.1" y2="156.4"/>
<polygon class="ah" points="829,162.5 815.7,158.6 818.8,153.2"/>
<line class="ar" x1="788.5" y1="346.1" x2="756.5" y2="332.4"/>
<polygon class="ah" points="745,327.5 758.6,330 756.2,335.7"/>
<line class="ar" x1="404.5" y1="331.2" x2="411" y2="352.7"/>
<polygon class="ah" points="414.6,364.7 407.8,352.7 413.7,350.9"/>
<line class="ar" x1="487.9" y1="318.4" x2="480.9" y2="353.2"/>
<polygon class="ah" points="478.4,365.5 478,351.7 484.1,352.9"/>
<line class="ar" x1="490.4" y1="318.7" x2="490.4" y2="353"/>
<polygon class="ah" points="490.4,365.5 487.3,352 493.5,352"/>
<line class="ar" x1="425.1" y1="411.4" x2="471.6" y2="380"/>
<polygon class="ah" points="482,373 472.5,383.1 469.1,378"/>
<line class="ar" x1="535.9" y1="434.3" x2="494.5" y2="379"/>
<polygon class="ah" points="487,369 497.6,378 492.6,381.7"/>
<line class="ar" x1="576.6" y1="421.5" x2="557.8" y2="381.9"/>
<polygon class="ah" points="552.4,370.6 561,381.5 555.4,384.1"/>
<line class="ar" x1="570.9" y1="530.1" x2="493.9" y2="479.5"/>
<polygon class="ah" points="483.5,472.6 496.5,477.4 493.1,482.6"/>
<line class="ar" x1="252.8" y1="511.3" x2="201.4" y2="539.7"/>
<polygon class="ah" points="190.5,545.7 200.8,536.5 203.8,541.9"/>
<line class="ar" x1="260.3" y1="561.5" x2="228.4" y2="575.6"/>
<polygon class="ah" points="217,580.6 228.1,572.3 230.6,578"/>
<line class="ar" x1="254.6" y1="612.7" x2="225.4" y2="622.5"/>
<polygon class="ah" points="213.6,626.5 225.4,619.3 227.4,625.1"/>
<line class="ar" x1="95.5" y1="617.2" x2="125.4" y2="627.1"/>
<polygon class="ah" points="137.3,631 123.5,629.7 125.5,623.8"/>
<line class="ar" x1="82.4" y1="625.9" x2="80.5" y2="651"/>
<polygon class="ah" points="79.5,663.5 77.5,649.8 83.6,650.3"/>
<line class="ar" x1="135.8" y1="692.1" x2="108.9" y2="672.4"/>
<polygon class="ah" points="98.8,665 111.5,670.5 107.9,675.5"/>
<line class="ar" x1="923.1" y1="452.8" x2="835.6" y2="501.8"/>
<polygon class="ah" points="824.7,507.9 835,498.6 838,504"/>
<line class="ar" x1="733.5" y1="505.5" x2="753.3" y2="517.2"/>
<polygon class="ah" points="764,523.6 750.8,519.4 754,514"/>
<line class="ar" x1="736.7" y1="573.9" x2="758.2" y2="585.2"/>
<polygon class="ah" points="769.3,591 755.9,587.5 758.8,582"/>
<line class="ar" x1="894.2" y1="574.9" x2="854" y2="590.6"/>
<polygon class="ah" points="842.4,595.2 853.8,587.4 856.1,593.2"/>
<line class="ar" x1="904.4" y1="582.9" x2="900.2" y2="614.8"/>
<polygon class="ah" points="898.6,627.2 897.3,613.4 903.4,614.2"/>
<line class="ar" x1="817.4" y1="633.5" x2="835.1" y2="615.8"/>
<polygon class="ah" points="843.9,607 836.5,618.7 832.2,614.4"/>
<line class="ar" x1="500.2" y1="640.5" x2="530.6" y2="667.5"/>
<polygon class="ah" points="539.9,675.8 527.7,669.2 531.9,664.5"/>
<line class="ar" x1="629.4" y1="633.9" x2="612.7" y2="646"/>
<polygon class="ah" points="602.6,653.3 611.7,642.9 615.4,647.9"/>
<line class="ar" x1="699.3" y1="644.6" x2="623.5" y2="663.2"/>
<polygon class="ah" points="611.4,666.2 623.8,660 625.2,666"/>
<line class="ar" x1="681.4" y1="677" x2="637.1" y2="694.8"/>
<polygon class="ah" points="625.5,699.5 636.9,691.6 639.2,697.3"/>
<line class="ar" x1="715" y1="700.9" x2="648.7" y2="728.6"/>
<polygon class="ah" points="637.2,733.4 648.5,725.3 650.9,731.1"/>
<line class="ar" x1="683.1" y1="740.4" x2="661.8" y2="752"/>
<polygon class="ah" points="650.8,758 661.2,748.8 664.1,754.3"/>
<line class="ar" x1="675.6" y1="788.6" x2="575.6" y2="737.5"/>
<polygon class="ah" points="564.5,731.8 577.9,735.2 575.1,740.7"/>
<line class="ar" x1="654.6" y1="847.4" x2="605.4" y2="820.1"/>
<polygon class="ah" points="594.5,814 607.8,817.9 604.8,823.3"/>
<line class="ar" x1="656.1" y1="845.3" x2="620.4" y2="814.3"/>
<polygon class="ah" points="611,806.1 623.2,812.6 619.2,817.3"/>
<line class="ar" x1="505.3" y1="842.4" x2="534.6" y2="858.6"/>
<polygon class="ah" points="545.5,864.7 532.2,860.9 535.2,855.4"/>
<line class="ar" x1="504.7" y1="894.8" x2="529.8" y2="893.1"/>
<polygon class="ah" points="542.3,892.2 529,896.2 528.6,890"/>
<line class="ar" x1="504.6" y1="897.3" x2="543.5" y2="902.1"/>
<polygon class="ah" points="555.9,903.6 542.1,905 542.9,898.9"/>
<line class="ar" x1="487.7" y1="761.8" x2="533" y2="743.5"/>
<polygon class="ah" points="544.6,738.8 533.2,746.7 530.9,741"/>
<line class="ar" x1="488.4" y1="764.3" x2="544.2" y2="753.9"/>
<polygon class="ah" points="556.5,751.6 543.8,757.1 542.7,751"/>
<line class="ar" x1="460.3" y1="679.1" x2="512.2" y2="712"/>
<polygon class="ah" points="522.8,718.7 509.7,714.1 513.1,708.9"/>
<circle class="co" cx="77.9" cy="140.7" r="12.7"/>
<text class="num" x="77.9" y="145.1" textLength="12.2" lengthAdjust="spacingAndGlyphs">20</text>
<circle class="co" cx="172.5" cy="129.3" r="12.7"/>
<text class="num" x="172.5" y="133.7" textLength="12.2" lengthAdjust="spacingAndGlyphs">14</text>
<circle class="co" cx="315.4" cy="116.8" r="12.7"/>
<text class="num" x="315.4" y="121.2" textLength="12.2" lengthAdjust="spacingAndGlyphs">12</text>
<circle class="co" cx="39.6" cy="195.4" r="12.7"/>
<text class="num" x="39.6" y="199.8" textLength="12.2" lengthAdjust="spacingAndGlyphs">13</text>
<circle class="co" cx="48.6" cy="263.9" r="12.7"/>
<text class="num" x="48.6" y="268.3" textLength="12.2" lengthAdjust="spacingAndGlyphs">16</text>
<circle class="co" cx="192.9" cy="313.9" r="12.7"/>
<text class="num" x="192.9" y="318.3" textLength="12.2" lengthAdjust="spacingAndGlyphs">19</text>
<circle class="co" cx="807.5" cy="82.5" r="12.7"/>
<text class="num" x="807.5" y="86.9" textLength="12.2" lengthAdjust="spacingAndGlyphs">16</text>
<circle class="co" cx="931.5" cy="91" r="12.7"/>
<text class="num" x="931.5" y="95.4" textLength="12.2" lengthAdjust="spacingAndGlyphs">13</text>
<circle class="co" cx="753.5" cy="120" r="12.7"/>
<text class="num" x="753.5" y="124.4" textLength="12.2" lengthAdjust="spacingAndGlyphs">20</text>
<circle class="co" cx="800.2" cy="351.1" r="12.7"/>
<text class="num" x="800.2" y="355.5" textLength="12.2" lengthAdjust="spacingAndGlyphs">19</text>
<circle class="co" cx="400.9" cy="319" r="12.7"/>
<text class="num" x="400.9" y="323.4" textLength="6.2" lengthAdjust="spacingAndGlyphs">6</text>
<circle class="co" cx="490.4" cy="306" r="12.7"/>
<text class="num" x="490.4" y="310.4" textLength="12.2" lengthAdjust="spacingAndGlyphs">22</text>
<circle class="co" cx="414.6" cy="418.5" r="12.7"/>
<text class="num" x="414.6" y="422.9" textLength="12.2" lengthAdjust="spacingAndGlyphs">23</text>
<circle class="co" cx="543.5" cy="444.5" r="12.7"/>
<text class="num" x="543.5" y="448.9" textLength="12.2" lengthAdjust="spacingAndGlyphs">15</text>
<circle class="co" cx="582" cy="433" r="12.7"/>
<text class="num" x="582" y="437.4" textLength="6.2" lengthAdjust="spacingAndGlyphs">6</text>
<circle class="co" cx="581.5" cy="537.1" r="12.7"/>
<text class="num" x="581.5" y="541.5" textLength="6.2" lengthAdjust="spacingAndGlyphs">5</text>
<circle class="co" cx="263.9" cy="505.2" r="12.7"/>
<text class="num" x="263.9" y="509.6" textLength="12.2" lengthAdjust="spacingAndGlyphs">11</text>
<circle class="co" cx="271.9" cy="556.4" r="12.7"/>
<text class="num" x="271.9" y="560.8" textLength="12.2" lengthAdjust="spacingAndGlyphs">17</text>
<circle class="co" cx="266.6" cy="608.7" r="12.7"/>
<text class="num" x="266.6" y="613.1" textLength="12.2" lengthAdjust="spacingAndGlyphs">10</text>
<circle class="co" cx="83.4" cy="613.2" r="12.7"/>
<text class="num" x="83.4" y="617.6" textLength="12.2" lengthAdjust="spacingAndGlyphs">21</text>
<circle class="co" cx="146.1" cy="699.6" r="12.7"/>
<text class="num" x="146.1" y="704" textLength="6.2" lengthAdjust="spacingAndGlyphs">4</text>
<circle class="co" cx="934.2" cy="446.6" r="12.7"/>
<text class="num" x="934.2" y="451" textLength="12.2" lengthAdjust="spacingAndGlyphs">11</text>
<circle class="co" cx="722.6" cy="499" r="12.7"/>
<text class="num" x="722.6" y="503.4" textLength="12.2" lengthAdjust="spacingAndGlyphs">18</text>
<circle class="co" cx="725.5" cy="568" r="12.7"/>
<text class="num" x="725.5" y="572.4" textLength="12.2" lengthAdjust="spacingAndGlyphs">10</text>
<circle class="co" cx="906" cy="570.3" r="12.7"/>
<text class="num" x="906" y="574.7" textLength="12.2" lengthAdjust="spacingAndGlyphs">21</text>
<circle class="co" cx="808.4" cy="642.5" r="12.7"/>
<text class="num" x="808.4" y="646.9" textLength="6.2" lengthAdjust="spacingAndGlyphs">4</text>
<circle class="co" cx="490.7" cy="632.1" r="12.7"/>
<text class="num" x="490.7" y="636.5" textLength="12.2" lengthAdjust="spacingAndGlyphs">24</text>
<circle class="co" cx="639.7" cy="626.5" r="12.7"/>
<text class="num" x="639.7" y="630.9" textLength="12.2" lengthAdjust="spacingAndGlyphs">27</text>
<circle class="co" cx="711.6" cy="641.6" r="12.7"/>
<text class="num" x="711.6" y="646" textLength="12.2" lengthAdjust="spacingAndGlyphs">29</text>
<circle class="co" cx="693.2" cy="672.3" r="12.7"/>
<text class="num" x="693.2" y="676.7" textLength="12.2" lengthAdjust="spacingAndGlyphs">25</text>
<circle class="co" cx="726.7" cy="696" r="12.7"/>
<text class="num" x="726.7" y="700.4" textLength="12.2" lengthAdjust="spacingAndGlyphs">28</text>
<circle class="co" cx="694.2" cy="734.3" r="12.7"/>
<text class="num" x="694.2" y="738.7" textLength="12.2" lengthAdjust="spacingAndGlyphs">26</text>
<circle class="co" cx="686.9" cy="794.4" r="12.7"/>
<text class="num" x="686.9" y="798.8" textLength="6.2" lengthAdjust="spacingAndGlyphs">8</text>
<circle class="co" cx="665.7" cy="853.6" r="12.7"/>
<text class="num" x="665.7" y="858" textLength="6.2" lengthAdjust="spacingAndGlyphs">2</text>
<circle class="co" cx="494.2" cy="836.2" r="12.7"/>
<text class="num" x="494.2" y="840.6" textLength="6.2" lengthAdjust="spacingAndGlyphs">7</text>
<circle class="co" cx="492" cy="895.7" r="12.7"/>
<text class="num" x="492" y="900.1" textLength="6.2" lengthAdjust="spacingAndGlyphs">1</text>
<circle class="co" cx="475.9" cy="766.6" r="12.7"/>
<text class="num" x="475.9" y="771" textLength="6.2" lengthAdjust="spacingAndGlyphs">3</text>
<circle class="co" cx="449.6" cy="672.3" r="12.7"/>
<text class="num" x="449.6" y="676.7" textLength="6.2" lengthAdjust="spacingAndGlyphs">9</text>
</svg></body></html>
